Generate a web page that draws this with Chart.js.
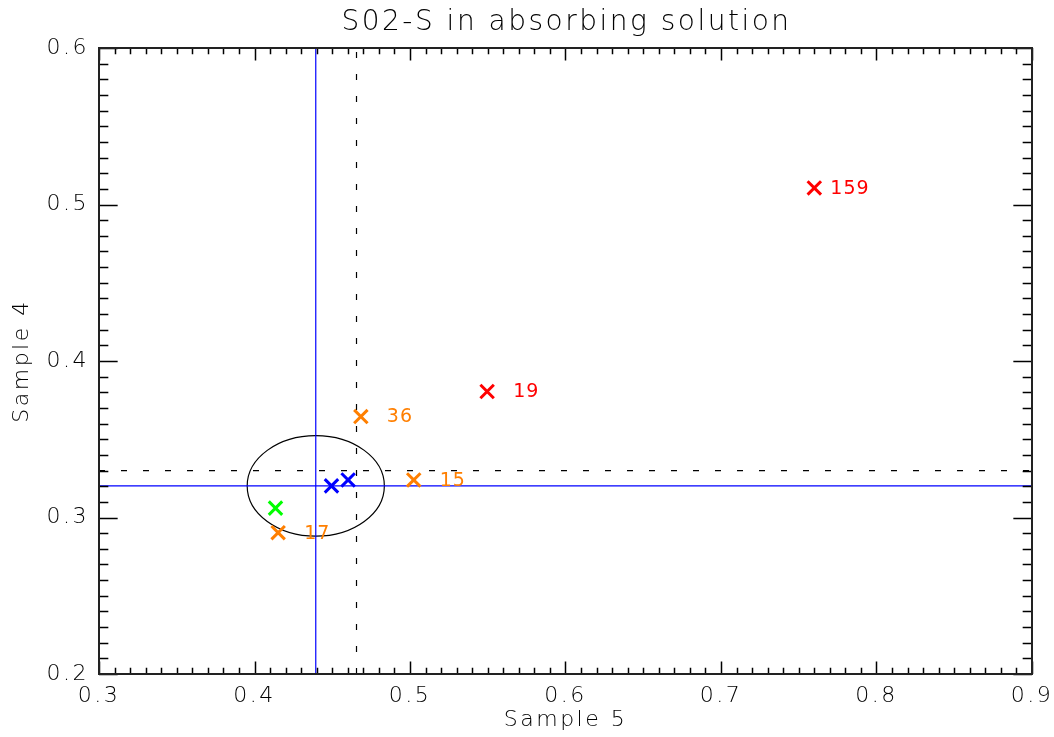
<!DOCTYPE html>
<html lang="en">
<head>
    <meta charset="UTF-8">
    <title>SO2-S in absorbing solution</title>
    <script src="https://cdn.jsdelivr.net/npm/chart.js"></script>
</head>
<body style="background-color: white; margin: 0">
    <div style="width: 1054px; height: 737px;">
        <canvas id="scatterChart" width="1054" height="737"></canvas>
    </div>

    <script>
        // Values
        const redX = [0.760, 0.5496];
        const redY = [0.5106, 0.3805];
        const redLabels = ['159', '19'];

        const orangeX = [0.4684, 0.5024, 0.4152];
        const orangeY = [0.3645, 0.324, 0.2903];
        const orangeLabels = ['36', '15', '17'];

        const greenX = [0.4135];
        const greenY = [0.306];

        const blueX = [0.4495, 0.4602];
        const blueY = [0.3202, 0.324];

        // reference lines (blue solid, black dashed) and the ellipse
        const refX = 0.4394;
        const refY = 0.3202;
        const dashX = 0.4656;
        const dashY = 0.33;
        const ellipseCenter = [0.4394, 0.3202];
        const ellipseRadius = [0.0441, 0.0321];

        // axes
        const xRange = [0.3, 0.9];
        const yRange = [0.2, 0.6];
        const xTickLabels = [0.3, 0.4, 0.5, 0.6, 0.7, 0.8, 0.9];
        const yTickLabels = [0.2, 0.3, 0.4, 0.5, 0.6];
        const minorStep = 0.01;

        const FONT = "'DejaVu Sans', 'Liberation Sans', sans-serif";
        const INK = '#000';

        function toPoints(xs, ys) {
            return xs.map((x, i) => ({ x: x, y: ys[i] }));
        }

        function markerSet(xs, ys, color, labels) {
            return {
                data: toPoints(xs, ys),
                pointLabels: labels || [],
                pointStyle: 'crossRot',
                pointRadius: 9.5,
                pointHoverRadius: 9.5,
                borderColor: color,
                backgroundColor: color,
                pointBorderWidth: 3,
                showLine: false,
                order: 0
            };
        }

        function lineSet(points, color, dash) {
            return {
                data: points,
                showLine: true,
                pointRadius: 0,
                borderColor: color,
                borderWidth: 1.2,
                borderDash: dash || [],
                order: 1
            };
        }

        // title over the plot box, inward ticks on all four sides, frame, ellipse
        const framePlugin = {
            id: 'frame',
            beforeDraw(chart, args, opts) {
                const { ctx, chartArea: a } = chart;
                ctx.letterSpacing = '2.5px';
                ctx.save();
                ctx.fillStyle = INK;
                ctx.font = '200 28px ' + FONT;
                ctx.textAlign = 'center';
                ctx.textBaseline = 'middle';
                ctx.fillText(opts.title, (a.left + a.right) / 2 + 1, 23);
                ctx.restore();
            },
            beforeDatasetsDraw(chart) {
                const { ctx, scales: { x, y } } = chart;
                ctx.save();
                ctx.strokeStyle = '#000';
                ctx.lineWidth = 1.2;
                ctx.beginPath();
                const cx = x.getPixelForValue(ellipseCenter[0]);
                const cy = y.getPixelForValue(ellipseCenter[1]);
                const rx = Math.abs(x.getPixelForValue(ellipseCenter[0] + ellipseRadius[0]) - cx);
                const ry = Math.abs(y.getPixelForValue(ellipseCenter[1] + ellipseRadius[1]) - cy);
                ctx.ellipse(cx, cy, rx, ry, 0, 0, Math.PI * 2);
                ctx.stroke();
                ctx.restore();
            },
            afterDraw(chart) {
                const { ctx, chartArea: a, scales: { x, y } } = chart;
                const h = a.bottom - a.top, w = a.right - a.left;
                ctx.save();
                ctx.strokeStyle = INK;
                ctx.lineWidth = 1.5;
                ctx.beginPath();
                const nx = Math.round((xRange[1] - xRange[0]) / minorStep);
                for (let i = 0; i <= nx; i++) {
                    const v = xRange[0] + i * minorStep;
                    const len = (i % 10 === 0 ? 0.02 : 0.01) * h;
                    const px = Math.round(x.getPixelForValue(v)) + 0.5;
                    ctx.moveTo(px, a.bottom); ctx.lineTo(px, a.bottom - len);
                    ctx.moveTo(px, a.top); ctx.lineTo(px, a.top + len);
                }
                const ny = Math.round((yRange[1] - yRange[0]) / minorStep);
                for (let i = 0; i <= ny; i++) {
                    const v = yRange[0] + i * minorStep;
                    const len = (i % 10 === 0 ? 0.02 : 0.01) * w;
                    const py = Math.round(y.getPixelForValue(v)) + 0.5;
                    ctx.moveTo(a.left, py); ctx.lineTo(a.left + len, py);
                    ctx.moveTo(a.right, py); ctx.lineTo(a.right - len, py);
                }
                ctx.stroke();
                ctx.strokeStyle = '#222';
                ctx.lineWidth = 2;
                ctx.strokeRect(a.left, a.top, w, h);
                ctx.restore();
            }
        };

        // numbers printed next to some markers
        const labelPlugin = {
            id: 'pointLabels',
            afterDatasetsDraw(chart, args, opts) {
                const ctx = chart.ctx;
                ctx.save();
                ctx.letterSpacing = '1px';
                ctx.font = '19px ' + FONT;
                ctx.textBaseline = 'middle';
                ctx.textAlign = 'left';
                chart.data.datasets.forEach((ds, di) => {
                    if (!ds.pointLabels || !ds.pointLabels.length) return;
                    const meta = chart.getDatasetMeta(di);
                    ds.pointLabels.forEach((txt, i) => {
                        const el = meta.data[i];
                        const off = txt === '159' ? opts.shortOffset : opts.offset;
                        ctx.fillStyle = ds.borderColor;
                        ctx.fillText(txt, el.x + off, el.y + 1);
                    });
                });
                ctx.restore();
            }
        };

        const ctx = document.getElementById('scatterChart').getContext('2d');
        new Chart(ctx, {
            type: 'scatter',
            data: {
                datasets: [
                    lineSet([{ x: dashX, y: yRange[0] }, { x: dashX, y: yRange[1] }], '#000', [6, 16]),
                    lineSet([{ x: xRange[0], y: dashY }, { x: xRange[1], y: dashY }], '#000', [6, 16]),
                    lineSet([{ x: refX, y: yRange[0] }, { x: refX, y: yRange[1] }], '#0000ff'),
                    lineSet([{ x: xRange[0], y: refY }, { x: xRange[1], y: refY }], '#0000ff'),
                    markerSet(redX, redY, '#ff0000', redLabels),
                    markerSet(orangeX, orangeY, '#ff7f00', orangeLabels),
                    markerSet(greenX, greenY, '#00ff00'),
                    markerSet(blueX, blueY, '#0000ff')
                ]
            },
            options: {
                responsive: false,
                animation: false,
                layout: { padding: { left: 0, right: 22, top: 48, bottom: 0 } },
                plugins: {
                    legend: { display: false },
                    tooltip: { enabled: false },
                    title: { display: false },
                    frame: { title: 'S02-S in absorbing solution' },
                    pointLabels: { offset: 26, shortOffset: 16 }
                },
                scales: {
                    x: {
                        type: 'linear',
                        min: xRange[0],
                        max: xRange[1],
                        afterFit: s => { s.height = 63; s.paddingLeft = 0; s.paddingRight = 0; },
                        afterBuildTicks: s => { s.ticks = xTickLabels.map(v => ({ value: v })); },
                        grid: { display: false, drawTicks: false },
                        border: { display: false },
                        ticks: {
                            color: INK,
                            padding: 9,
                            maxRotation: 0,
                            font: { family: FONT, size: 22, weight: 200 },
                            callback: v => String(Math.round(v * 10) / 10)
                        },
                        title: {
                            display: true,
                            text: 'Sample 5',
                            color: INK,
                            font: { family: FONT, size: 22, weight: 200 },
                            padding: { bottom: 4 }
                        }
                    },
                    y: {
                        type: 'linear',
                        min: yRange[0],
                        max: yRange[1],
                        afterFit: s => { s.width = 99; s.paddingTop = 0; s.paddingBottom = 0; },
                        afterBuildTicks: s => { s.ticks = yTickLabels.map(v => ({ value: v })); },
                        grid: { display: false, drawTicks: false },
                        border: { display: false },
                        ticks: {
                            color: INK,
                            padding: 10,
                            font: { family: FONT, size: 22, weight: 200 },
                            callback: v => String(Math.round(v * 10) / 10)
                        },
                        title: {
                            display: true,
                            text: 'Sample 4',
                            color: INK,
                            font: { family: FONT, size: 22, weight: 200 },
                            padding: { top: 9 }
                        }
                    }
                }
            },
            plugins: [framePlugin, labelPlugin]
        });
    </script>
</body>
</html>
